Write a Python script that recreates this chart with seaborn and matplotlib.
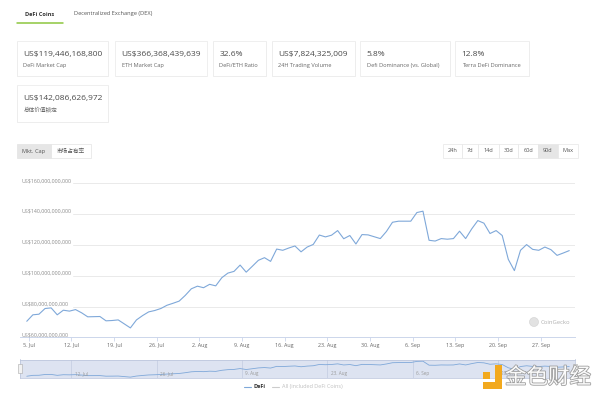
import matplotlib
matplotlib.use("Agg")
import matplotlib.pyplot as plt
import matplotlib.transforms as mtransforms
import matplotlib.patheffects as pe
from matplotlib.patches import Rectangle, Circle
from matplotlib.lines import Line2D
import pandas as pd
import seaborn as sns

# ---------------- data ----------------
tab_labels = ["DeFi Coins", "Decentralized Exchange (DEX)"]
card_values = ["US$119,446,168,800", "US$366,368,439,639", "32.6%", "US$7,824,325,009",
               "5.8%", "12.8%", "US$142,086,626,972"]
card_labels = ["DeFi Market Cap", "ETH Market Cap", "DeFi/ETH Ratio", "24H Trading Volume",
               "Defi Dominance (vs. Global)", "Terra DeFi Dominance", "总体价值锁定"]
metric_buttons = ["Mkt. Cap", "市场占有率"]
range_buttons = ["24h", "7d", "14d", "30d", "60d", "90d", "Max"]
selected_range = "90d"

start_time = "2021-07-04 16:00"
defi_cap_bn = [70.4, 74.6, 75.0, 78.7, 79.1, 74.6, 77.6, 77.0, 78.0, 75.9,
               73.3, 73.4, 73.5, 70.7, 70.9, 71.3, 68.7, 66.1, 71.3, 74.1,
               76.5, 77.4, 78.7, 80.8, 82.1, 83.5, 87.2, 91.5, 93.2, 92.2,
               94.4, 93.4, 98.7, 101.7, 102.8, 106.9, 102.3, 106.1, 110.0, 111.7,
               109.3, 117.3, 116.5, 118.0, 119.3, 115.5, 118.6, 120.3, 126.4, 125.2,
               126.3, 129.3, 124.0, 126.1, 120.6, 126.7, 126.5, 125.3, 124.1, 128.7,
               134.7, 135.4, 135.4, 135.4, 141.0, 141.9, 123.0, 122.5, 124.1, 123.7,
               124.1, 128.9, 124.1, 130.4, 135.8, 134.1, 127.4, 129.3, 126.1, 110.6,
               103.3, 116.5, 120.2, 117.1, 116.5, 118.6, 116.9, 113.2, 114.7, 116.3]
y_ticks_bn = [60, 80, 100, 120, 140, 160]
y_tick_labels = ["US$60,000,000,000", "US$80,000,000,000", "US$100,000,000,000",
                 "US$120,000,000,000", "US$140,000,000,000", "US$160,000,000,000"]
x_tick_dates = ["2021-07-05", "2021-07-12", "2021-07-19", "2021-07-26", "2021-08-02",
                "2021-08-09", "2021-08-16", "2021-08-23", "2021-08-30", "2021-09-06",
                "2021-09-13", "2021-09-20", "2021-09-27"]
x_tick_labels = ["5. Jul", "12. Jul", "19. Jul", "26. Jul", "2. Aug", "9. Aug", "16. Aug",
                 "23. Aug", "30. Aug", "6. Sep", "13. Sep", "20. Sep", "27. Sep"]
nav_tick_dates = ["2021-07-12", "2021-07-26", "2021-08-09", "2021-08-23", "2021-09-06", "2021-09-20"]
nav_tick_labels = ["12. Jul", "26. Jul", "9. Aug", "23. Aug", "6. Sep", "20. Sep"]
legend_labels = ["DeFi", "All (included DeFi Coins)"]

df = pd.DataFrame({
    "date": pd.date_range(start_time, periods=len(defi_cap_bn), freq="D"),
    "cap": defi_cap_bn,
})

# ---------------- style ----------------
sns.set_theme(style="white")
plt.rcParams["font.family"] = ["Open Sans", "Noto Sans CJK SC", "DejaVu Sans"]

LINE = "#7fa8d9"
W, H = 600, 397
fig = plt.figure(figsize=(6, 3.97), dpi=100, facecolor="white")

# background overlay in pixel coordinates
bg = fig.add_axes([0, 0, 1, 1], zorder=0)
bg.set_xlim(0, W)
bg.set_ylim(H, 0)
bg.axis("off")

# tabs
bg.text(25, 14, tab_labels[0], fontsize=4.1, fontweight="bold", color="#333333", va="center", ha="left")
bg.text(74, 14, tab_labels[1], fontsize=4.1, color="#555555", va="center", ha="left")
bg.add_line(Line2D([17, 63], [22.6, 22.6], color="#8dc63f", lw=1.1))

# cards
cards = [(16.7, 41, 91.6, 35), (115, 41, 91.7, 35), (212.7, 41, 53.3, 35),
         (271.7, 41, 83.3, 35), (360, 41, 90, 35), (455, 41, 74.3, 35),
         (16.7, 85, 91.6, 36.7)]
for (x, y, w, h), val, lab in zip(cards, card_values, card_labels):
    bg.add_patch(Rectangle((x + 0.6, y + 0.8), w, h, facecolor="#f2f2f2", edgecolor="none"))
    bg.add_patch(Rectangle((x, y), w, h, facecolor="white", edgecolor="#ececec", lw=0.6))
    bg.text(x + 6.6, y + 13.3, val, fontsize=6.0, color="#4a4a4a", va="center", ha="left")
    bg.text(x + 6.6, y + 24.3, lab, fontsize=4.1, color="#666666", va="center", ha="left")

# metric buttons
mb = [(16.7, 51.0), (51.0, 90.7)]
for (x0, x1), lab in zip(mb, metric_buttons):
    fc = "#e6e6e6" if lab == metric_buttons[0] else "white"
    bg.add_patch(Rectangle((x0, 144.3), x1 - x0, 13.4, facecolor=fc, edgecolor="#e3e3e3", lw=0.5))
    bg.text((x0 + x1) / 2, 151, lab, fontsize=4.1, color="#555555", va="center", ha="center")

# range buttons
rb = [443.3, 462.3, 478.3, 499.0, 518.3, 538.3, 557.7, 578.3]
for i, lab in enumerate(range_buttons):
    x0, x1 = rb[i], rb[i + 1]
    fc = "#e6e6e6" if lab == selected_range else "white"
    bg.add_patch(Rectangle((x0, 144.3), x1 - x0, 13.4, facecolor=fc, edgecolor="#e6e6e6", lw=0.5))
    bg.text((x0 + x1) / 2, 151, lab, fontsize=4.1, color="#555555", va="center", ha="center")

# ---------------- main chart ----------------
ax_l, ax_r = 20.0, 575.0
ax_top, ax_bot = 183.3, 337.3
ax = fig.add_axes([ax_l / W, 1 - ax_bot / H, (ax_r - ax_l) / W, (ax_bot - ax_top) / H], zorder=2)
ax.set_facecolor("none")
sns.lineplot(data=df, x="date", y="cap", ax=ax, color=LINE, lw=0.8)
ax.set_ylim(y_ticks_bn[0], y_ticks_bn[-1])
t0 = pd.Timestamp("2021-07-05")
xmin = t0 - pd.Timedelta(days=1.444)
xmax = t0 + pd.Timedelta(days=89.61)
ax.set_xlim(xmin, xmax)
ax.set_xlabel("")
ax.set_ylabel("")
for s in ["top", "left", "right"]:
    ax.spines[s].set_visible(False)
ax.spines["bottom"].set_color("#ccd6eb")
ax.spines["bottom"].set_linewidth(0.7)
ax.set_yticks([])
grid_start = (72.5 - ax_l) / (ax_r - ax_l)
for v in y_ticks_bn[1:]:
    ax.axhline(v, xmin=grid_start, xmax=1, color="#e6e6e6", lw=0.6, zorder=0)
blend = mtransforms.blended_transform_factory(ax.transAxes, ax.transData)
px_per_unit = (ax_bot - ax_top) / (y_ticks_bn[-1] - y_ticks_bn[0])
for v, lab in zip(y_ticks_bn, y_tick_labels):
    ax.text(0.002, v + 2.6 / px_per_unit, lab, transform=blend, fontsize=3.8,
            color="#8a8a8a", va="center", ha="left")
ax.set_xticks(pd.to_datetime(x_tick_dates))
ax.set_xticklabels(x_tick_labels, fontsize=3.9, color="#666666")
ax.tick_params(axis="x", length=3.0, width=0.6, color="#ccd6eb", pad=0.8, bottom=True)

# CoinGecko credit
ax.add_patch(Circle((534, 322), 4.5, transform=bg.transData, facecolor="#e2e2e2", edgecolor="#d0d0d0", lw=0.4))
bg.text(541, 322.5, "CoinGecko", fontsize=4.2, color="#b0b0b0", va="center", ha="left", zorder=3)

# ---------------- navigator ----------------
nav_top, nav_bot = 359.5, 378.0
nav = fig.add_axes([ax_l / W, 1 - nav_bot / H, (ax_r - ax_l) / W, (nav_bot - nav_top) / H], zorder=2)
nav.set_facecolor("#dde3f1")
for d in pd.to_datetime(nav_tick_dates):
    nav.axvline(d, color="#c3cbe0", lw=0.5, zorder=0)
sns.lineplot(data=df, x="date", y="cap", ax=nav, color=LINE, lw=0.6)
nav.set_xlim(xmin, xmax)
nav.set_ylim(62, 150)
nav.set_xticks([])
nav.set_yticks([])
nav.set_xlabel("")
nav.set_ylabel("")
for s in nav.spines.values():
    s.set_color("#b7c1da")
    s.set_linewidth(0.5)
nblend = mtransforms.blended_transform_factory(nav.transData, nav.transAxes)
for d, lab in zip(pd.to_datetime(nav_tick_dates), nav_tick_labels):
    nav.text(d + pd.Timedelta(days=0.5), 0.22, lab, transform=nblend, fontsize=3.3,
             color="#9a9a9a", va="center", ha="left")

# ---------------- top overlay: handles, legend, watermark ----------------
top = fig.add_axes([0, 0, 1, 1], zorder=5)
top.set_xlim(0, W)
top.set_ylim(H, 0)
top.axis("off")
top.patch.set_alpha(0)
for hx in (18.0, 573.0):
    top.add_patch(Rectangle((hx, 363.5), 4, 9, facecolor="#f2f2f2", edgecolor="#aaaaaa", lw=0.4))

top.add_line(Line2D([244, 251], [386.5, 386.5], color=LINE, lw=0.8))
top.text(254, 386.5, legend_labels[0], fontsize=4.0, fontweight="bold", color="#333333", va="center", ha="left")
top.add_line(Line2D([272, 279], [386.5, 386.5], color="#cccccc", lw=0.8))
top.text(282, 386.5, legend_labels[1], fontsize=4.0, color="#c0c0c0", va="center", ha="left")

ORANGE = "#f2a91e"
top.add_patch(Rectangle((483, 372), 7, 7, facecolor=ORANGE, edgecolor="none"))
top.add_patch(Rectangle((495, 365), 7, 24, facecolor=ORANGE, edgecolor="none"))
top.add_patch(Rectangle((483, 382), 19, 7, facecolor=ORANGE, edgecolor="none"))
top.text(505, 378, "金色财经", fontsize=15.5, color="white", alpha=0.95, va="center", ha="left",
         path_effects=[pe.withStroke(linewidth=1.2, foreground="#9a9a9a")])

fig.savefig("out.png", dpi=100, facecolor="white")
